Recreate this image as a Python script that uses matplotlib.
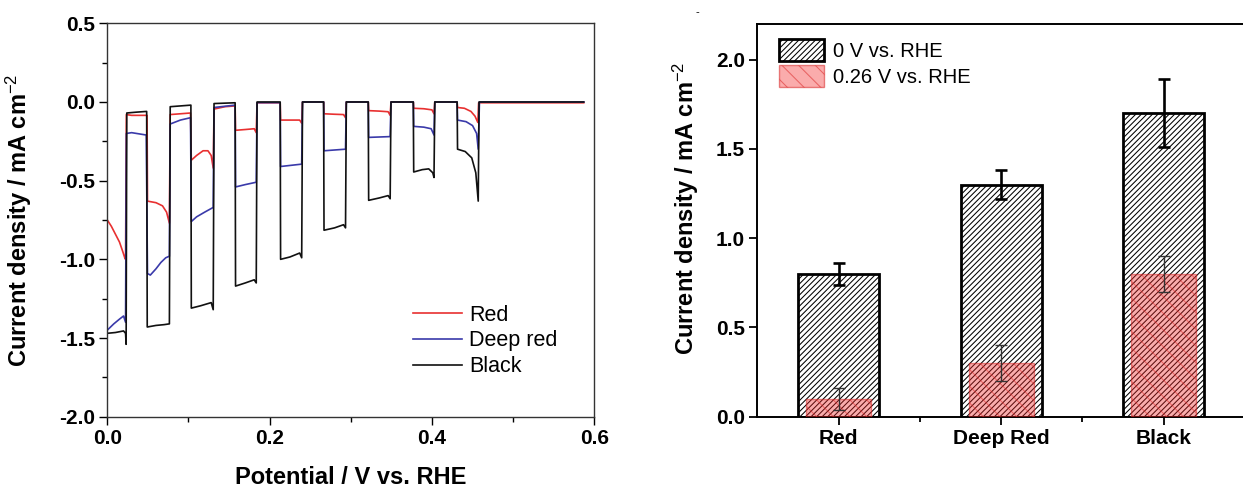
import matplotlib
matplotlib.use("Agg")
import matplotlib.pyplot as plt
import numpy as np

plt.rcParams['font.family'] = ['Liberation Sans', 'DejaVu Sans']
plt.rcParams['mathtext.fontset'] = 'custom'
plt.rcParams['mathtext.rm'] = 'Liberation Sans'
plt.rcParams['mathtext.it'] = 'Liberation Sans:italic'
plt.rcParams['mathtext.bf'] = 'Liberation Sans:bold'
plt.rcParams['hatch.linewidth'] = 0.75

# ---------------- Left panel data: chopped LSV (V vs RHE, mA cm^-2) ----------------
red_v = [0.000, 0.005, 0.010, 0.015, 0.019, 0.0215, 0.0225, 0.0235, 0.030, 0.049,
         0.0495, 0.060, 0.068, 0.073, 0.0765, 0.0775, 0.090, 0.1025,
         0.1035, 0.110, 0.118, 0.124, 0.128, 0.1305, 0.1315, 0.145, 0.1575,
         0.158, 0.170, 0.181, 0.1835, 0.1845, 0.213,
         0.2135, 0.225, 0.237, 0.2395, 0.2405, 0.2665,
         0.267, 0.280, 0.291, 0.2935, 0.2945, 0.3215,
         0.322, 0.335, 0.346, 0.3485, 0.3495, 0.377,
         0.3775, 0.390, 0.400, 0.4025, 0.4035, 0.431,
         0.4315, 0.440, 0.448, 0.453, 0.4565, 0.4575, 0.587]
red_j = [-0.75, -0.79, -0.84, -0.89, -0.95, -0.99, -1.00, -0.08, -0.085, -0.085,
         -0.63, -0.64, -0.66, -0.70, -0.77, -0.08, -0.075, -0.07,
         -0.37, -0.34, -0.31, -0.31, -0.34, -0.42, -0.045, -0.03, -0.025,
         -0.18, -0.175, -0.17, -0.195, -0.005, -0.005,
         -0.115, -0.115, -0.115, -0.135, 0.0, 0.0,
         -0.075, -0.078, -0.08, -0.10, 0.0, 0.0,
         -0.055, -0.058, -0.062, -0.085, 0.0, 0.0,
         -0.04, -0.043, -0.05, -0.075, 0.0, 0.0,
         -0.035, -0.04, -0.06, -0.09, -0.13, -0.005, -0.005]

blue_v = [0.000, 0.008, 0.015, 0.020, 0.0225, 0.0235, 0.030, 0.048,
          0.0495, 0.053, 0.060, 0.066, 0.072, 0.0765, 0.0775, 0.090, 0.1025,
          0.1035, 0.110, 0.120, 0.1305, 0.1315, 0.1575,
          0.158, 0.170, 0.1835, 0.1845, 0.213,
          0.2135, 0.2395, 0.2405, 0.2665,
          0.267, 0.2935, 0.2945, 0.3215,
          0.322, 0.3485, 0.3495, 0.377,
          0.3775, 0.390, 0.399, 0.4025, 0.4035, 0.431,
          0.4315, 0.442, 0.450, 0.455, 0.457, 0.4585, 0.587]
blue_j = [-1.45, -1.41, -1.38, -1.36, -1.40, -0.20, -0.195, -0.21,
          -1.09, -1.10, -1.06, -1.02, -0.99, -0.98, -0.14, -0.115, -0.10,
          -0.76, -0.73, -0.70, -0.67, -0.035, -0.02,
          -0.54, -0.525, -0.51, -0.004, -0.004,
          -0.41, -0.395, 0.0, 0.0,
          -0.31, -0.30, 0.0, 0.0,
          -0.225, -0.22, 0.0, 0.0,
          -0.155, -0.16, -0.17, -0.21, 0.0, 0.0,
          -0.115, -0.125, -0.15, -0.20, -0.30, 0.0, 0.0]

black_v = [0.000, 0.010, 0.020, 0.0225, 0.0232, 0.0240, 0.035, 0.0485,
           0.0492, 0.060, 0.070, 0.0765, 0.0775, 0.1030,
           0.1035, 0.115, 0.128, 0.1305, 0.1315, 0.1575,
           0.158, 0.170, 0.181, 0.1835, 0.1845, 0.213,
           0.2135, 0.225, 0.237, 0.2395, 0.2405, 0.2665,
           0.267, 0.280, 0.291, 0.2935, 0.2945, 0.3215,
           0.322, 0.335, 0.346, 0.3485, 0.3495, 0.377,
           0.3775, 0.388, 0.396, 0.401, 0.4025, 0.4035, 0.431,
           0.4315, 0.441, 0.449, 0.454, 0.457, 0.458, 0.587]
black_j = [-1.47, -1.465, -1.455, -1.47, -1.54, -0.07, -0.065, -0.06,
           -1.43, -1.42, -1.415, -1.41, -0.03, -0.02,
           -1.31, -1.295, -1.275, -1.32, -0.01, -0.005,
           -1.17, -1.15, -1.13, -1.15, 0.0, 0.0,
           -1.00, -0.985, -0.96, -0.99, 0.0, 0.0,
           -0.815, -0.80, -0.78, -0.80, 0.0, 0.0,
           -0.625, -0.61, -0.595, -0.615, 0.0, 0.0,
           -0.445, -0.43, -0.425, -0.45, -0.48, 0.0, 0.0,
           -0.30, -0.315, -0.355, -0.45, -0.63, 0.0, 0.0]

series_labels = ["Red", "Deep red", "Black"]
series_colors = ["#e83030", "#3a3aaa", "#111111"]

# ---------------- Right panel data: bar chart ----------------
categories = ["Red", "Deep Red", "Black"]
j_0V = [0.80, 1.30, 1.70]
err_0V = [0.06, 0.08, 0.19]
j_026V = [0.10, 0.30, 0.80]
err_026V = [0.06, 0.10, 0.10]
bar_labels = ["0 V vs. RHE", "0.26 V vs. RHE"]

W, H = 1243, 487
fig = plt.figure(figsize=(W / 100, H / 100), dpi=100)

TICK_FS = 15
LABEL_FS = 17

# Left axes
axL = fig.add_axes([107.3 / W, 1 - 416.7 / H, (594.3 - 107.3) / W, (416.7 - 23.3) / H])
for v, j, lab, c in zip([red_v, blue_v, black_v], [red_j, blue_j, black_j],
                        series_labels, series_colors):
    axL.plot(v, j, color=c, lw=1.2, label=lab)
axL.set_xlim(0, 0.6)
axL.set_ylim(-2.0, 0.5)
axL.set_xticks([0.0, 0.2, 0.4, 0.6])
axL.set_xticks([0.1, 0.3, 0.5], minor=True)
axL.set_yticks([-2.0, -1.5, -1.0, -0.5, 0.0, 0.5])
axL.set_yticks([-1.75, -1.25, -0.75, -0.25, 0.25], minor=True)
axL.set_xticklabels(["0.0", "0.2", "0.4", "0.6"])
axL.set_yticklabels(["-2.0", "-1.5", "-1.0", "-0.5", "0.0", "0.5"])
axL.tick_params(which='major', direction='out', length=6, width=1.0, labelsize=TICK_FS, pad=3)
axL.tick_params(which='minor', direction='out', length=3.5, width=1.0)
for t in axL.get_xticklabels() + axL.get_yticklabels():
    t.set_fontweight('bold')
for s in axL.spines.values():
    s.set_linewidth(1.0)
    s.set_color('#333333')
axL.set_xlabel("Potential / V vs. RHE", fontsize=LABEL_FS, fontweight='bold')
axL.set_ylabel("Current density / mA cm$^{-2}$", fontsize=LABEL_FS, fontweight='bold')
axL.xaxis.set_label_coords(0.5, -0.125)
axL.yaxis.set_label_coords(-0.150, 0.5)
legL = axL.legend(loc='upper left', bbox_to_anchor=(0.628, 0.285), frameon=False,
                  fontsize=15.5, handlelength=2.25, handletextpad=0.35,
                  labelspacing=0.22, borderpad=0, borderaxespad=0)

# Right axes
axR = fig.add_axes([757.3 / W, 1 - 416.7 / H, (1245 - 757.3) / W, (416.7 - 24) / H])
x = np.arange(len(categories))
axR.bar(x, j_0V, width=0.5, color='white', edgecolor='black', linewidth=2.0,
        hatch='//////', label=bar_labels[0], zorder=2)
axR.errorbar(x, j_0V, yerr=err_0V, fmt='none', ecolor='black', elinewidth=1.9,
             capsize=4.5, capthick=1.9, zorder=3)
axR.bar(x, j_026V, width=0.4, color=(0.95, 0.15, 0.15, 0.38),
        edgecolor=(0.85, 0.15, 0.15, 0.55), linewidth=1.0, hatch='\\\\',
        label=bar_labels[1], zorder=4)
axR.errorbar(x, j_026V, yerr=err_026V, fmt='none', ecolor='#333333', elinewidth=1.0,
             capsize=4.5, capthick=1.0, zorder=5)
axR.set_xlim(-0.5, 2.5)
axR.set_ylim(0, 2.2)
axR.set_xticks(x)
axR.set_xticks([0.5, 1.5], minor=True)
axR.set_xticklabels(categories)
axR.set_yticks([0.0, 0.5, 1.0, 1.5, 2.0])
axR.set_yticklabels(["0.0", "0.5", "1.0", "1.5", "2.0"])
axR.tick_params(which='major', direction='out', length=6, width=1.3, labelsize=TICK_FS, pad=3)
axR.tick_params(which='minor', direction='out', length=3.5, width=1.3)
for t in axR.get_xticklabels() + axR.get_yticklabels():
    t.set_fontweight('bold')
for s in axR.spines.values():
    s.set_linewidth(1.4)
axR.set_ylabel("Current density / mA cm$^{-2}$", fontsize=LABEL_FS, fontweight='bold')
axR.yaxis.set_label_coords(-0.1155, 0.53)
legR = axR.legend(loc='upper left', bbox_to_anchor=(0.045, 0.962), frameon=False,
                  fontsize=14.5, handlelength=2.2, handleheight=1.3, handletextpad=0.45,
                  labelspacing=0.2, borderpad=0, borderaxespad=0)

fig.text(697 / W, 1 - 12 / H, "-", fontsize=8, ha='center', va='center')

fig.savefig("out.png", dpi=100)
